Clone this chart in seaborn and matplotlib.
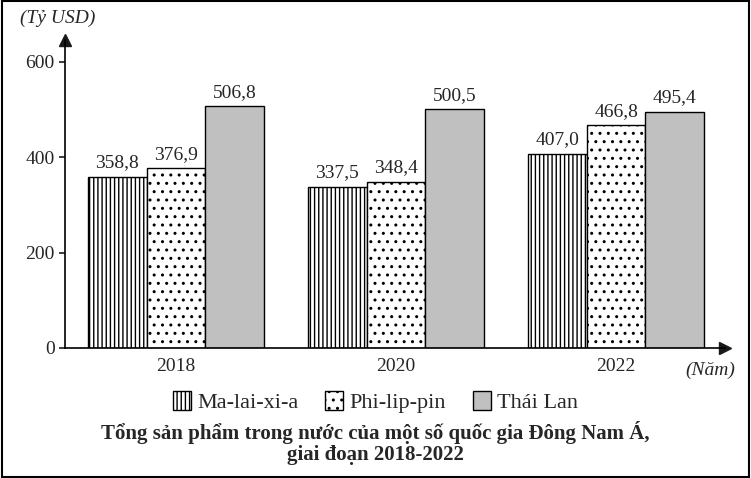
import numpy as np
import pandas as pd
import seaborn as sns
import matplotlib.pyplot as plt
from matplotlib.patches import Patch

years = ['2018', '2020', '2022']
countries = ['Ma-lai-xi-a', 'Phi-lip-pin', 'Thái Lan']
malaysia = [358.8, 337.5, 407.0]
philippines = [376.9, 348.4, 466.8]
thailand = [506.8, 500.5, 495.4]

df = pd.DataFrame({
    'year': years * 3,
    'country': [c for c in countries for _ in years],
    'value': malaysia + philippines + thailand,
})

sns.set_theme(style='white')
plt.rcParams['font.family'] = ['Liberation Serif', 'DejaVu Serif']
plt.rcParams['hatch.linewidth'] = 1.0

fig = plt.figure(figsize=(7.51, 4.78), dpi=100)
ax = fig.add_axes([65/751, 1-348/478, 660/751, 308/478])

pal = ['white', 'white', '#c0c0c0']
sns.barplot(data=df, x='year', y='value', hue='country', palette=pal,
            width=0.8, edgecolor='black', linewidth=1, ax=ax, legend=False)

hatches = ['||||', '..', '']
for cont, h in zip(ax.containers, hatches):
    for bar in cont:
        bar.set_hatch(h)
    labels = [f'{v:.1f}'.replace('.', ',') for v in cont.datavalues]
    ax.bar_label(cont, labels=labels, padding=4, fontsize=14)

ax.set_xlim(-0.505, 2.495)
ax.set_ylim(0, 646)
ax.set_yticks([0, 200, 400, 600])
ax.tick_params(axis='both', labelsize=14, length=4, direction='out', left=True, bottom=False)
ax.set_xlabel('')
ax.set_ylabel('')
for s in ['top', 'right']:
    ax.spines[s].set_visible(False)
for s in ['left', 'bottom']:
    ax.spines[s].set_color('black')
    ax.spines[s].set_linewidth(1.2)
ax.plot(1, 0, '>k', transform=ax.transAxes, clip_on=False, markersize=8)
ax.plot(0, 1, '^k', transform=ax.transAxes, clip_on=False, markersize=8)

fig.text(20/751, 1-18/478, '(Tỷ USD)', fontsize=14, style='italic', va='center')
fig.text(710/751, 1-370/478, '(Năm)', fontsize=14, style='italic', va='center', ha='center')

handles = [Patch(facecolor=c, edgecolor='black', hatch=h) for c, h in zip(pal, hatches)]
fig.legend(handles, countries, loc='center', bbox_to_anchor=(0.5, 1-402/478), ncol=3,
           frameon=False, fontsize=16, handlelength=0.8, handleheight=0.9,
           handletextpad=0.3, columnspacing=1.2)
fig.text(0.5, 1-433/478, 'Tổng sản phẩm trong nước của một số quốc gia Đông Nam Á,',
         fontsize=15, weight='bold', ha='center', va='center')
fig.text(0.5, 1-455/478, 'giai đoạn 2018-2022', fontsize=15, weight='bold', ha='center', va='center')

fig.patches.append(plt.Rectangle((0.002, 0.002), 0.996, 0.996, transform=fig.transFigure,
                                 fill=False, edgecolor='black', linewidth=1.5))
fig.savefig('out.png', dpi=100)
